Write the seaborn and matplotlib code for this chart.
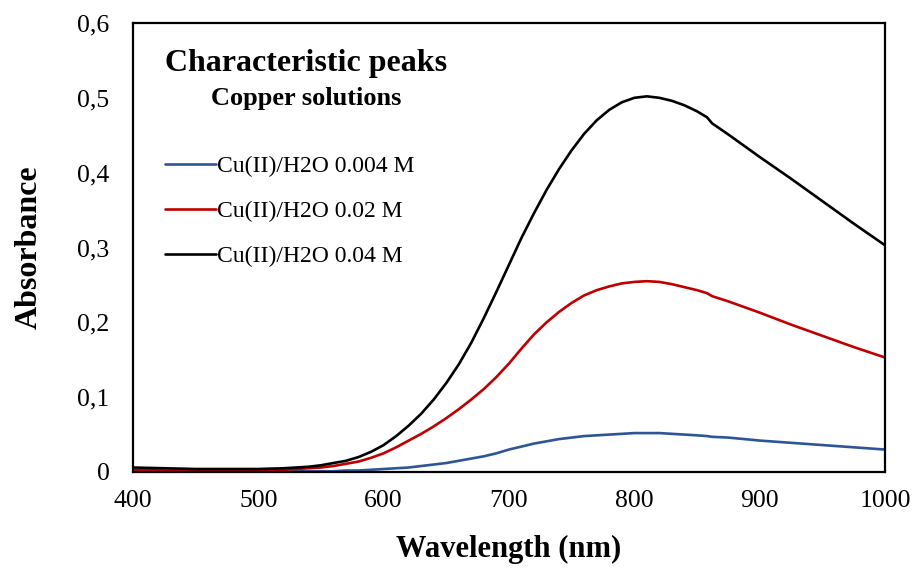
import numpy as np
import pandas as pd
import matplotlib
matplotlib.use("Agg")
import matplotlib.pyplot as plt
import seaborn as sns

# Data
wavelength = [400, 425, 450, 475, 500, 520, 540, 550, 560, 570, 580, 590, 600, 610,
              620, 630, 640, 650, 660, 670, 680, 690, 700, 710, 720, 730, 740, 750,
              760, 770, 780, 790, 800, 810, 820, 830, 840, 850, 858, 862, 875, 900,
              925, 950, 975, 1000]
abs_0004 = [0.002, 0.001, 0.001, 0.001, 0.001, 0.001, 0.001, 0.001, 0.001, 0.002,
            0.002, 0.003, 0.004, 0.005, 0.006, 0.008, 0.010, 0.012, 0.015, 0.018,
            0.021, 0.025, 0.030, 0.034, 0.038, 0.041, 0.044, 0.046, 0.048, 0.049,
            0.050, 0.051, 0.052, 0.052, 0.052, 0.051, 0.050, 0.049, 0.048, 0.047,
            0.046, 0.042, 0.039, 0.036, 0.033, 0.030]
abs_002 = [0.003, 0.002, 0.002, 0.002, 0.002, 0.003, 0.005, 0.006, 0.008, 0.011,
           0.014, 0.019, 0.025, 0.033, 0.042, 0.051, 0.061, 0.072, 0.084, 0.097,
           0.111, 0.127, 0.145, 0.165, 0.184, 0.200, 0.214, 0.226, 0.236, 0.243,
           0.248, 0.252, 0.254, 0.255, 0.254, 0.251, 0.247, 0.243, 0.239, 0.235,
           0.228, 0.213, 0.197, 0.182, 0.167, 0.153]
abs_004 = [0.006, 0.005, 0.004, 0.004, 0.004, 0.005, 0.007, 0.009, 0.012, 0.015,
           0.020, 0.027, 0.036, 0.048, 0.062, 0.078, 0.097, 0.119, 0.144, 0.173,
           0.206, 0.241, 0.277, 0.313, 0.346, 0.377, 0.405, 0.430, 0.452, 0.470,
           0.484, 0.494, 0.500, 0.502, 0.500, 0.496, 0.490, 0.482, 0.474, 0.466,
           0.451, 0.421, 0.392, 0.362, 0.332, 0.303]
series_names = ["Cu(II)/H2O 0.004 M", "Cu(II)/H2O 0.02 M", "Cu(II)/H2O 0.04 M"]
colors = ["#2F5597", "#C00000", "#000000"]
x_ticks = [400, 500, 600, 700, 800, 900, 1000]
y_ticks = [0, 0.1, 0.2, 0.3, 0.4, 0.5, 0.6]
y_tick_labels = ["0", "0,1", "0,2", "0,3", "0,4", "0,5", "0,6"]

frames = []
for name, vals in zip(series_names, [abs_0004, abs_002, abs_004]):
    frames.append(pd.DataFrame({"Wavelength": wavelength, "Absorbance": vals, "Series": name}))
df = pd.concat(frames, ignore_index=True)

sns.set_theme(style="white")
plt.rcParams["font.family"] = ["Liberation Serif", "DejaVu Serif"]
plt.rcParams["text.color"] = "black"
plt.rcParams["axes.labelcolor"] = "black"
plt.rcParams["xtick.color"] = "black"
plt.rcParams["ytick.color"] = "black"

W, H = 914, 568
fig = plt.figure(figsize=(W / 100, H / 100), dpi=100)
ax_w = (885 - 133)
ax_h = (472 - 23)
ax = fig.add_axes([133 / W, 1 - 472 / H, ax_w / W, ax_h / H])

sns.lineplot(data=df, x="Wavelength", y="Absorbance", hue="Series",
             hue_order=series_names, palette=colors, linewidth=1.9,
             ax=ax, legend=True)

ax.set_xlim(400, 1000)
ax.set_ylim(0, 0.6)
ax.set_xticks(x_ticks)
ax.set_xticklabels([str(t) for t in x_ticks])
ax.set_yticks(y_ticks)
ax.set_yticklabels(y_tick_labels)
ax.tick_params(axis="both", length=0, labelsize=18.5, colors="black")
ax.tick_params(axis="y", pad=17)
ax.tick_params(axis="x", pad=13)
for s in ax.spines.values():
    s.set_color("black")
    s.set_linewidth(1.6)

ax.set_xlabel("Wavelength (nm)", fontsize=22, fontweight="bold", color="black")
ax.set_ylabel("Absorbance", fontsize=23, fontweight="bold", color="black")
ax.xaxis.set_label_coords(0.5, -(535 - 472) / ax_h)
ax.yaxis.set_label_coords(-(133 - 44) / ax_w, 0.5)

fig.text(306 / W, 1 - 64 / H, "Characteristic peaks", fontsize=23, fontweight="bold",
         ha="center", va="center", color="black")
fig.text(306 / W, 1 - 98 / H, "Copper solutions", fontsize=19, fontweight="bold",
         ha="center", va="center", color="black")

leg = ax.legend(loc="upper left", bbox_to_anchor=(165 / W, 1 - 156 / H),
                bbox_transform=fig.transFigure, frameon=False, fontsize=17,
                handlelength=2.17, handletextpad=0.05, labelspacing=0.98,
                borderpad=0, borderaxespad=0, title=None)
for line in leg.get_lines():
    line.set_linewidth(1.9)
for t in leg.get_texts():
    t.set_color("black")

fig.savefig("out.png", dpi=100)
